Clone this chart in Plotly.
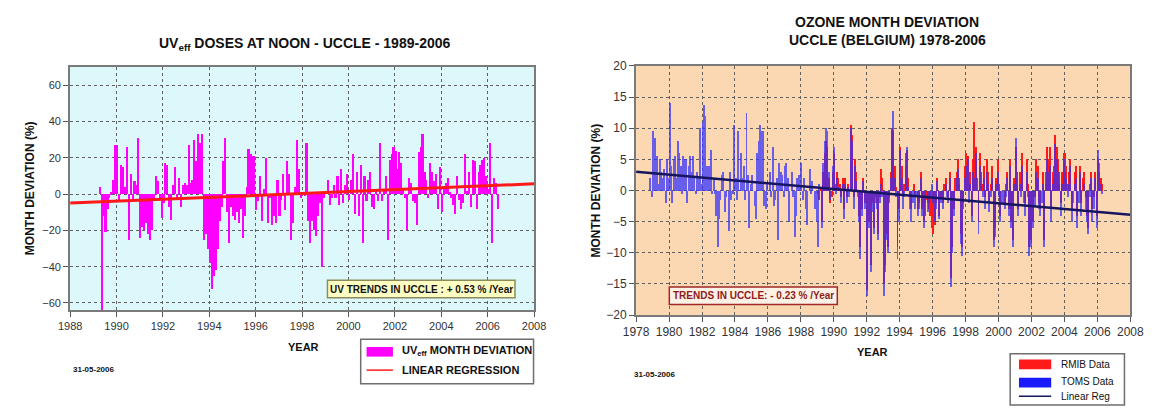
import plotly.graph_objects as go

W, H = 1157, 409
FONT = "Liberation Sans, Arial, sans-serif"

# ---------------- UVeff monthly deviation (%), Uccle, from April 1989 -------------
uv_start = 1989 + 3 / 12
uv_dev = [
    4, -68, -12, -21, -8, -2, 1, 8, 27, 27,
    -4, 16, 15, 4, 26, -25, 11, -3, 7, 5,
    31, -24, -18, -20, -16, -22, -25, -20, -3, 10,
    7, -2, -13, -5, 17, 16, -7, -14, 5, 15,
    -3, 9, -7, 5, 6, 5, 27, 6, 8, 30,
    18, 33, 28, 33, -25, -22, -30, -38, -52, -45,
    -42, -30, -15, -7, 18, 31, -10, -27, -7, -12,
    -14, -10, -16, -8, -24, -12, 4, 25, 22, 21,
    21, -9, -4, 10, -15, 3, 20, -16, -2, -17,
    -12, -16, 8, -12, -3, 11, -9, 18, 11, -25,
    -16, 4, 30, 14, -2, 1, -1, 28, -15, -27,
    -15, -20, -23, -12, -5, -40, -2, 2, 8, -6,
    -2, 5, -2, 10, -6, 14, -5, 5, 11, -3,
    8, 22, -11, 12, -12, 16, -27, 10, -4, 8,
    12, -7, -8, 3, -4, 28, -4, 3, 10, -25,
    19, 22, 26, 24, 14, 23, 17, 3, -2, -20,
    9, 6, -4, -5, -17, 23, 26, 33, 12, 8,
    -2, 17, 12, 7, 11, -8, 15, -10, 4, 6,
    9, 1, -2, -6, -11, 10, -3, -8, -5, 22,
    2, 12, -7, 19, 18, -8, 12, 16, 19, 20,
    10, 3, 28, -27, 9, 6, -8,
]
uv_trend = 0.53          # % per year
uv_reg_mid = (1998.0, 0.3)
uv_years = list(range(1988, 2009, 2))
uv_yticks = [-60, -40, -20, 0, 20, 40, 60]

# ---------------- Ozone monthly deviation (%), Uccle --------------------------------
# TOMS satellite data, monthly from November 1978
toms_start = 1978 + 10 / 12
toms_dev = [
    2, -1,                                                      # 1978
    9.5, 8.5, 3, 5.5, 1, 5, 3, 2, 3.5, -2, 5, 2,                # 1979
    14, 4, -2, 5, 5.5, 2, 8, 6, 4, -0.5, 5.5, 5,                # 1980
    5, -2, 4, 5.5, 3, 5.5, 2, -0.5, 3, 2, 10, 1,                # 1981
    11, 13.8, 12, 4, 2, 4, 6.5, -0.5, 2, -0.5, -4, -9,          # 1982
    -4.5, -1.5, 2.5, 3, -3.5, -1, 0, -6.5, 3, -1.5, -0.5, 10.5, # 1983
    2, -1.5, 9.5, 0, 6, 2, 4, -1.5, 12.5, 2.5, -6, 1,           # 1984
    2.5, 0, -2.5, -4.5, 6, 8, 10.5, 9.5, 9.5, -2.5, -3, 1,      # 1985
    0, 3, -1, 7, -2.5, -1.5, 2, -8, 4.5, 3, 2.5, -1,            # 1986
    4, 4.5, 2, -5, 0, 3, -1, -7.5, -4, 2, 2.5, 0,               # 1987
    4.5, -1.5, 2, -3, -5.5, 0, 3.5, -0.5, 1.5, 0, -3, -5,       # 1988
    -9, 1, 0, -6, 4.5, 8, 10, 9.5, 3, -1.5, 0, 4,               # 1989
    7, -0.5, 2, 0.5, 0, -2, 1, -4.5, 1, -2, 0.5, -1,            # 1990
    10, 8, -3, 4, 1.5, -1, -5, -11, -4, 1.5, -3, -1,            # 1991
    -17, -6, -4, -13, -3.5, -7, -2, -3, -8, -2, 1, -1,          # 1992
    -17, -13, -8, -10, -2, 2, 9.5, 12.8, 2, -1, -11, -5,        # 1993
    6.5, 2, -3, -1, 4, 7, 0.5, -3, -5, -2, -1, -3,              # 1994
    -1, -4, -3, 2, -4, -6, -2, 0, -3.5, -2, -1, 1,              # 1995
    -2, -5, -3, 1.5, -4.5, -1, -2, -3, 0, 1, -1, -2,            # 1996
    2, -15.5, -10, -4, 0, 2, 3.5, 1, -8.5, -10.5, -3, 2,        # 1997
    4, 5, -2, 1, -5, 3, 2, 6, 0, -7, 4, 1,                      # 1998
    -1, 2, -3, 3, 1, -3.5, -1, 2, -9, -7.5, 1, 3,               # 1999
    -1, -5, -2, -2, -3, -1, 2, -4, 4, -6, -9, 1,                # 2000
    8.5, 2, -4, 1, -1, 4, -2, -4, 3, -1, -10.5, -9,             # 2001
    -2, -6, -2.5, 3, 2, -3, -4, -2, 1, -9, 1, 5,                # 2002
    3, 4, -5, 1, 2, 7.5, 5, 3, 1, -4, 1, 5,                     # 2003
    3, 2, -1, 1, 4, -5, -2, 1, 2, -6, -2, 3,                    # 2004
    -4, 0, 1, -3, -5, -7, -1, 2, -5, -3, 2, -6,                 # 2005
    6.5, 4.5, 1, -0.5, 0,                                       # 2006
]
# RMIB ground-based data, monthly from January 1989
rmib_start = 1989.0
rmib_dev = [
    -0.5, -1.5, 0.5, -5, 3, 6, 8, 7, 2, -2, -1, 3,              # 1989
    6, 1, 3, 2, 1, -1, 2, -3, 2, -1, 1, 0,                      # 1990
    10.5, 9, -1, 5, 3, 0, -4, -9, -3, 2, -2, 0,                 # 1991
    -16, -5, -3, -12, -2, -6, -1, -2, -7, -1, 3.5, 2,           # 1992
    -15, -12, -7, -9, -1, 3, 10, 9.5, 4, 0.5, -9, -3,           # 1993
    7, 4, -1, 1, 6, 6.5, 2, -1, -3, 0, 1, -1,                   # 1994
    0, -3, -2, 3, -3, -5, -4, -1.5, -2, -3, -4, -6,             # 1995
    -7, -5.5, -2, 2, -4, 0, -1, -2, 1, 2, 0, -1,                # 1996
    3, -14, -9, -3, 2, 3, 5, 2, -7, -9, -2, 4,                  # 1997
    6, 5.5, 0, 3, -4, 5, 11, 7, 2, -5, 6, 3,                    # 1998
    1, 4, -1, 5, 3, -2, 1, 4, -8, -6, 2, 5,                     # 1999
    1, -4, 0, 0, -2, 1, 3, -3, 5, -5, -8, 2,                    # 2000
    7, 3, -3, 3, 1, 6, 0, -2, 5, 1, -9, -8,                     # 2001
    -1, -5, -1, 5, 4, -2, -3, 0, 3, -8, 3, 7,                   # 2002
    5, 7, -3, 3, 4, 9, 7, 5, 3, -2, 3, 6,                       # 2003
    6, 4, 1, 3, 5, -3, 0, 3, 4, -4, 0, 4,                       # 2004
    -2, 2, 3, -1, -4, -6, 1, 3, -3, -1, 3, -4,                  # 2005
    5, 3, 2, 1,                                                 # 2006
]
o3_trend = -0.23         # % per year
o3_reg_start = (1978.0, 3.0)
o3_years = list(range(1978, 2009, 2))
o3_yticks = [-20, -15, -10, -5, 0, 5, 10, 15, 20]


def monthly_x(start, n):
    return [start + i / 12 + 1 / 24 for i in range(n)]


def px(x):
    return x / W


def py(y):
    return 1 - y / H


fig = go.Figure()

# --- UV panel ---
fig.add_trace(go.Bar(
    x=monthly_x(uv_start, len(uv_dev)), y=uv_dev, width=0.07,
    marker=dict(color="#ff00ff", line=dict(width=0)),
    xaxis="x", yaxis="y", showlegend=False))
uv_reg_x = [uv_years[0], uv_years[-1]]
uv_reg_y = [uv_reg_mid[1] + uv_trend * (v - uv_reg_mid[0]) for v in uv_reg_x]
fig.add_trace(go.Scatter(
    x=uv_reg_x, y=uv_reg_y, mode="lines",
    line=dict(color="#ff1a1a", width=3), xaxis="x", yaxis="y", showlegend=False))

# --- Ozone panel ---
fig.add_trace(go.Bar(
    x=monthly_x(rmib_start, len(rmib_dev)), y=rmib_dev, width=0.06,
    marker=dict(color="#ff1a1a", line=dict(width=0)),
    xaxis="x2", yaxis="y2", showlegend=False))
fig.add_trace(go.Bar(
    x=monthly_x(toms_start, len(toms_dev)), y=toms_dev, width=0.06,
    marker=dict(color="#3030ff", line=dict(width=0)), opacity=0.72,
    xaxis="x2", yaxis="y2", showlegend=False))
o3_reg_x = [o3_years[0], o3_years[-1]]
o3_reg_y = [o3_reg_start[1] + o3_trend * (v - o3_reg_start[0]) for v in o3_reg_x]
fig.add_trace(go.Scatter(
    x=o3_reg_x, y=o3_reg_y, mode="lines",
    line=dict(color="#161660", width=2.5), xaxis="x2", yaxis="y2", showlegend=False))

axis_common = dict(
    showline=True, mirror=True, linecolor="#7a7a7a", linewidth=2,
    ticks="outside", ticklen=5, tickcolor="#555", tickwidth=1,
    showgrid=True, gridcolor="#606060", gridwidth=1, griddash="dot",
    zeroline=False, tickfont=dict(family=FONT, size=11, color="#333"),
    fixedrange=True,
)

fig.update_layout(
    width=W, height=H, autosize=False,
    margin=dict(l=0, r=0, t=0, b=0),
    paper_bgcolor="white", plot_bgcolor="rgba(0,0,0,0)",
    barmode="overlay", bargap=0,
    xaxis=dict(axis_common, domain=[px(58.5), px(533.5)], range=[1988, 2008],
               tickvals=uv_years, anchor="y"),
    yaxis=dict(axis_common, domain=[py(314), py(62)], range=[-64, 70],
               tickvals=uv_yticks, anchor="x"),
    xaxis2=dict(axis_common, domain=[px(638), px(1144)], range=[1978, 2008],
                tickvals=o3_years, anchor="y2",
                tickfont=dict(family=FONT, size=12, color="#333")),
    yaxis2=dict(axis_common, domain=[py(319), py(61)], range=[-20, 20],
                tickvals=o3_yticks, anchor="x2",
                tickfont=dict(family=FONT, size=12, color="#333")),
)

shapes = [
    dict(type="rect", xref="x domain", yref="y domain", x0=0, x1=1, y0=0, y1=1,
         fillcolor="#dcf8fb", line=dict(width=0), layer="below"),
    dict(type="rect", xref="x2 domain", yref="y2 domain", x0=0, x1=1, y0=0, y1=1,
         fillcolor="#fcd8b2", line=dict(width=0), layer="below"),
    # trend boxes
    dict(type="rect", xref="paper", yref="paper", x0=px(322), x1=px(514), y0=py(301), y1=py(283),
         fillcolor="#ffffc4", line=dict(color="#8c8c5a", width=1.5)),
    dict(type="rect", xref="paper", yref="paper", x0=px(672), x1=px(844), y0=py(308), y1=py(290),
         fillcolor="#fdf0e4", line=dict(color="#a02828", width=1.5)),
    # UV legend
    dict(type="rect", xref="paper", yref="paper", x0=px(356), x1=px(533), y0=py(390), y1=py(344),
         fillcolor="white", line=dict(color="#6e6e6e", width=1.5)),
    dict(type="rect", xref="paper", yref="paper", x0=px(362), x1=px(389), y0=py(362), y1=py(352),
         fillcolor="#ff00ff", line=dict(width=0)),
    dict(type="line", xref="paper", yref="paper", x0=px(362), x1=px(389), y0=py(376), y1=py(376),
         line=dict(color="#ff1a1a", width=1.5)),
    # Ozone legend
    dict(type="rect", xref="paper", yref="paper", x0=px(1021), x1=px(1138), y0=py(412), y1=py(359),
         fillcolor="white", line=dict(color="#6e6e6e", width=1.5)),
    dict(type="rect", xref="paper", yref="paper", x0=px(1030), x1=px(1063), y0=py(375), y1=py(365),
         fillcolor="#ff1a1a", line=dict(width=0)),
    dict(type="rect", xref="paper", yref="paper", x0=px(1030), x1=px(1063), y0=py(394), y1=py(384),
         fillcolor="#1a1aff", line=dict(width=0)),
    dict(type="line", xref="paper", yref="paper", x0=px(1030), x1=px(1063), y0=py(403), y1=py(403),
         line=dict(color="#161660", width=1.5)),
]
fig.update_layout(shapes=shapes)


def note(text, x, y, size=11, bold=True, color="#111", angle=0, xanchor="center"):
    return dict(text=f"<b>{text}</b>" if bold else text, x=px(x), y=py(y),
                xref="paper", yref="paper", showarrow=False, textangle=angle,
                xanchor=xanchor, yanchor="middle",
                font=dict(family=FONT, size=size, color=color))


annotations = [
    note("UV<sub>eff</sub> DOSES AT NOON - UCCLE - 1989-2006", 298, 38, size=14),
    note("MONTH DEVIATION (%)", 17, 188, size=12, angle=-90),
    note("YEAR", 297, 352, size=11),
    note("31-05-2006", 82, 375, size=8),
    note("UV TRENDS IN UCCLE : + 0.53 % /Year", 418, 292, size=10),
    note("UV<sub>eff</sub> MONTH DEVIATION", 396, 356, size=11, xanchor="left"),
    note("LINEAR REGRESSION", 396, 376, size=11, xanchor="left"),
    note("OZONE MONTH DEVIATION", 895, 16, size=14),
    note("UCCLE (BELGIUM) 1978-2006", 895, 34, size=14),
    note("MONTH DEVIATION (%)", 597, 190, size=12, angle=-90),
    note("YEAR", 880, 357, size=11),
    note("31-05-2006", 657, 381, size=8),
    note("TRENDS IN UCCLE: - 0.23 % /Year", 758, 299, size=10, color="#8c1c1c"),
    note("RMIB Data", 1071, 370, size=10, bold=False, xanchor="left"),
    note("TOMS Data", 1071, 388, size=10, bold=False, xanchor="left"),
    note("Linear Reg", 1071, 403, size=10, bold=False, xanchor="left"),
]
fig.update_layout(annotations=annotations)

fig.write_html("out.html")
